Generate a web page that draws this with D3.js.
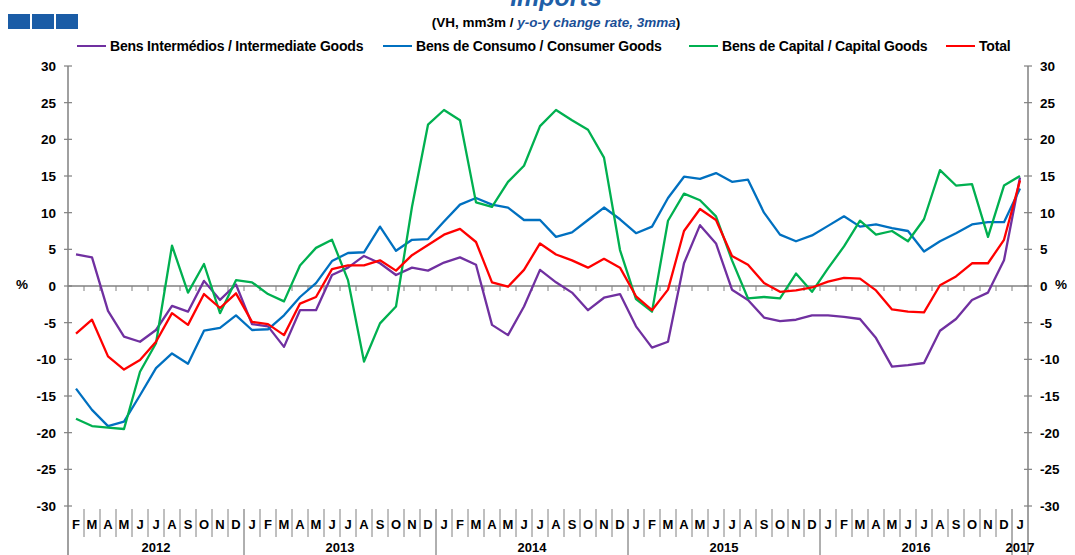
<!DOCTYPE html>
<html>
<head>
<meta charset="utf-8">
<script src="https://cdn.jsdelivr.net/npm/d3@7"></script>
<style>
  body { margin: 0; background: #fff; }
  text { font-family: Arial, "Liberation Sans", sans-serif; font-weight: bold; }
</style>
</head>
<body>
<svg></svg>
<script>
let width = 1075;
let height = 555;

// categories: Feb 2012 .. Jan 2017
let monthLetters = ["J", "F", "M", "A", "M", "J", "J", "A", "S", "O", "N", "D"];
let years = [2012, 2013, 2014, 2015, 2016, 2017];
let yTicks = [-30, -25, -20, -15, -10, -5, 0, 5, 10, 15, 20, 25, 30];

// series (y-o-y %, 3mma)
let intermediate = [4.3, 3.9, -3.4, -6.9, -7.6, -6.0, -2.7, -3.5, 0.7, -1.9, 0.2, -5.2,
  -5.5, -8.3, -3.3, -3.3, 1.5, 2.5, 4.1, 3.1, 1.5, 2.5, 2.1, 3.2,
  3.9, 2.9, -5.3, -6.7, -2.8, 2.2, 0.5, -0.9, -3.3, -1.6, -1.1, -5.5,
  -8.4, -7.6, 3.1, 8.3, 5.8, -0.5, -1.9, -4.3, -4.8, -4.6, -4.0, -4.0,
  -4.2, -4.5, -7.1, -11.0, -10.8, -10.5, -6.1, -4.5, -1.9, -0.9, 3.5, 14.8];
let consumer = [-14.0, -16.9, -19.1, -18.5, -14.9, -11.2, -9.2, -10.6, -6.1, -5.7, -4.0, -6.0,
  -5.9, -4.0, -1.5, 0.4, 3.4, 4.5, 4.6, 8.1, 4.8, 6.3, 6.4, 8.8,
  11.1, 12.0, 11.1, 10.7, 9.0, 9.0, 6.7, 7.3, 9.0, 10.7, 9.1, 7.2,
  8.1, 12.0, 14.9, 14.6, 15.4, 14.2, 14.5, 10.0, 7.0, 6.1, 6.9, 8.2,
  9.5, 8.1, 8.4, 7.9, 7.5, 4.7, 6.1, 7.2, 8.4, 8.7, 8.7, 13.3];
let capital = [-18.1, -19.1, -19.3, -19.5, -11.7, -7.8, 5.5, -0.9, 3.0, -3.7, 0.8, 0.5,
  -1.1, -2.1, 2.8, 5.2, 6.3, 0.8, -10.3, -5.1, -2.8, 10.8, 22.0, 24.0,
  22.6, 11.4, 10.8, 14.2, 16.4, 21.8, 24.0, 22.6, 21.3, 17.5, 4.9, -1.8,
  -3.5, 8.9, 12.6, 11.7, 9.5, 3.5, -1.7, -1.5, -1.7, 1.7, -0.8, 2.4,
  5.4, 8.9, 7.0, 7.5, 6.1, 9.1, 15.8, 13.7, 13.9, 6.7, 13.7, 15.0];
let total = [-6.5, -4.6, -9.6, -11.4, -10.1, -7.6, -3.7, -5.3, -1.1, -3.0, -1.0, -4.9,
  -5.2, -6.7, -2.4, -1.5, 2.3, 2.8, 2.8, 3.5, 2.1, 4.2, 5.6, 7.0,
  7.8, 6.0, 0.5, -0.1, 2.2, 5.8, 4.3, 3.5, 2.5, 3.7, 2.5, -1.4,
  -3.3, -0.5, 7.5, 10.5, 9.0, 4.1, 2.9, 0.4, -0.8, -0.6, -0.2, 0.6,
  1.1, 1.0, -0.6, -3.2, -3.5, -3.6, 0.1, 1.3, 3.1, 3.1, 6.3, 14.4];

let series = [
  {label: "Bens Intermédios / Intermediate Goods", values: intermediate, colour: "#7030a0", lx: 77},
  {label: "Bens de Consumo / Consumer Goods", values: consumer, colour: "#0070c0", lx: 383},
  {label: "Bens de Capital / Capital Goods", values: capital, colour: "#00b050", lx: 689},
  {label: "Total", values: total, colour: "#ff0000", lx: 946}
];

let months = d3.timeMonths(new Date(2012, 1, 1), new Date(2017, 1, 1));

let svg = d3.select("svg")
  .attr("width", width)
  .attr("height", height);

let x = d3.scaleBand()
  .domain(d3.range(months.length))
  .range([68, 1028])
  .paddingInner(0)
  .paddingOuter(0);

let y = d3.scaleLinear()
  .domain([-30, 30])
  .range([506, 66]);

let axisColour = "#808080";

// header
svg.append("text")
  .attr("x", 556)
  .attr("y", 6)
  .attr("text-anchor", "middle")
  .style("font-size", "25px")
  .style("font-style", "italic")
  .style("fill", "#1f5fa8")
  .text("Imports");

svg.selectAll(".logo")
  .data([8, 32, 56])
  .enter().append("rect")
    .attr("x", d => d)
    .attr("y", 14)
    .attr("width", 22)
    .attr("height", 15)
    .style("fill", "#1a5ca6");

let sub = svg.append("text")
  .attr("x", 556)
  .attr("y", 27)
  .attr("text-anchor", "middle")
  .style("font-size", "13.5px");
sub.append("tspan").text("(VH, mm3m / ");
sub.append("tspan").style("fill", "#1a4f96").style("font-style", "italic").text("y-o-y change rate, 3mma");
sub.append("tspan").text(")");

// legend
let legend = svg.selectAll(".legend")
  .data(series)
  .enter().append("g")
    .attr("class", "legend")
    .attr("transform", d => "translate(" + d.lx + ",46)");

legend.append("line")
  .attr("x1", 0).attr("x2", 29)
  .attr("y1", 0).attr("y2", 0)
  .style("stroke", d => d.colour)
  .style("stroke-width", 2);

legend.append("text")
  .attr("x", 33)
  .attr("y", 5)
  .style("font-size", "14px")
  .style("letter-spacing", "-0.2px")
  .text(d => d.label);

// axes
[68, 1028].forEach(function (ax) {
  svg.append("line")
    .attr("x1", ax).attr("x2", ax)
    .attr("y1", 66).attr("y2", 555)
    .style("stroke", axisColour)
    .style("stroke-width", 1.5);

  svg.selectAll(null)
    .data(yTicks)
    .enter().append("line")
      .attr("x1", ax - 4).attr("x2", ax + 4)
      .attr("y1", d => y(d)).attr("y2", d => y(d))
      .style("stroke", axisColour)
      .style("stroke-width", 1.2);
});

svg.selectAll(".ylabL")
  .data(yTicks)
  .enter().append("text")
    .attr("x", 56)
    .attr("y", d => y(d) + 5)
    .attr("text-anchor", "end")
    .style("font-size", "13.5px")
    .text(d => d);

svg.selectAll(".ylabR")
  .data(yTicks)
  .enter().append("text")
    .attr("x", 1040)
    .attr("y", d => y(d) + 5)
    .attr("text-anchor", "start")
    .style("font-size", "13.5px")
    .text(d => d);

svg.append("text").attr("x", 16).attr("y", 289).style("font-size", "13.5px").text("%");
svg.append("text").attr("x", 1055).attr("y", 289).style("font-size", "13.5px").text("%");

// zero line with month ticks
svg.append("line")
  .attr("x1", 68).attr("x2", 1028)
  .attr("y1", y(0)).attr("y2", y(0))
  .style("stroke", axisColour)
  .style("stroke-width", 1.5);

svg.selectAll(".ztick")
  .data(d3.range(1, months.length))
  .enter().append("line")
    .attr("x1", d => x(d)).attr("x2", d => x(d))
    .attr("y1", y(0)).attr("y2", y(0) + 5)
    .style("stroke", axisColour)
    .style("stroke-width", 1);

// month labels and separators
svg.selectAll(".msep")
  .data(d3.range(1, months.length))
  .enter().append("line")
    .attr("x1", d => x(d)).attr("x2", d => x(d))
    .attr("y1", 509)
    .attr("y2", d => months[d].getMonth() === 0 ? 555 : 537)
    .style("stroke", d => months[d].getMonth() === 0 ? "#606060" : axisColour)
    .style("stroke-width", 1);

svg.selectAll(".mlab")
  .data(months)
  .enter().append("text")
    .attr("x", (d, i) => x(i) + x.bandwidth() / 2)
    .attr("y", 529)
    .attr("text-anchor", "middle")
    .style("font-size", "13px")
    .text(d => monthLetters[d.getMonth()]);

svg.selectAll(".ylab")
  .data(years)
  .enter().append("text")
    .attr("x", function (yr) {
      let idx = d3.range(months.length).filter(i => months[i].getFullYear() === yr);
      return (x(idx[0]) + x(idx[idx.length - 1]) + x.bandwidth()) / 2;
    })
    .attr("y", 552)
    .attr("text-anchor", "middle")
    .style("font-size", "13px")
    .text(d => d);

// lines
let line = d3.line()
  .x((d, i) => x(i) + x.bandwidth() / 2)
  .y(d => y(d));

svg.selectAll(".series")
  .data(series)
  .enter().append("path")
    .attr("class", "series")
    .attr("d", d => line(d.values))
    .style("fill", "none")
    .style("stroke", d => d.colour)
    .style("stroke-width", 2.3)
    .style("stroke-linejoin", "round");
</script>
</body>
</html>
